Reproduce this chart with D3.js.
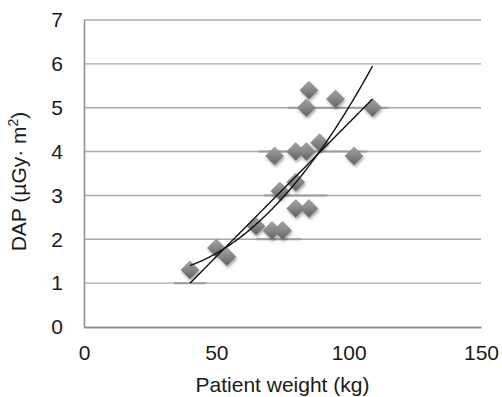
<!DOCTYPE html>
<html>
<head>
<meta charset="utf-8">
<script src="https://cdnjs.cloudflare.com/ajax/libs/d3/7.8.5/d3.min.js"></script>
<style>
  body { margin: 0; background: #fff; }
  .chart-box { width: 502px; height: 397px; }
  text { font-family: "Liberation Sans", Arial, sans-serif; fill: #1a1a1a; }
</style>
</head>
<body>
<div class="chart-box"></div>
<script>
// patient weight (kg) and DAP values
var weight = [40, 50, 54, 65, 71, 75, 80, 85, 74, 80, 72, 80, 84, 89, 102, 85, 95, 84, 109];
var dap    = [1.3, 1.8, 1.6, 2.3, 2.2, 2.2, 2.7, 2.7, 3.1, 3.3, 3.9, 4.0, 4.0, 4.2, 3.9, 5.4, 5.2, 5.0, 5.0];

// darker pieces of the gridlines: [dap level, from kg, to kg]
var darkGrid = [[1, 34, 46], [2, 65, 82], [3, 68, 92], [4, 66, 107], [5, 77, 115]];

// trend lines
var linearFit = [-1.44, 0.0609];            // a + b*x
var polyFit   = [1.568, -0.0299, 0.000643];  // a + b*x + c*x^2

var xTicks = [0, 50, 100, 150];
var yTicks = [0, 1, 2, 3, 4, 5, 6, 7];

var width = 502, height = 397;
var margin = {left: 84, right: 21, top: 20, bottom: 70};

var svg = d3.select(".chart-box").append("svg")
    .attr("width", width)
    .attr("height", height);

var x = d3.scaleLinear().domain([0, 150]).range([margin.left, width - margin.right]);
var y = d3.scaleLinear().domain([0, 7]).range([height - margin.bottom, margin.top]);

var defs = svg.append("defs");
var grad = defs.append("linearGradient")
    .attr("id", "diamondFill")
    .attr("x1", 0).attr("y1", 0).attr("x2", 0).attr("y2", 1);
grad.append("stop").attr("offset", "0%").attr("stop-color", "#a3a3a3");
grad.append("stop").attr("offset", "50%").attr("stop-color", "#868686");
grad.append("stop").attr("offset", "100%").attr("stop-color", "#5e5e5e");

var shadow = defs.append("filter")
    .attr("id", "shadow")
    .attr("x", "-50%").attr("y", "-50%").attr("width", "200%").attr("height", "200%");
shadow.append("feDropShadow")
    .attr("dx", 1).attr("dy", 2)
    .attr("stdDeviation", 1.6)
    .attr("flood-color", "#000")
    .attr("flood-opacity", 0.35);

// gridlines
svg.append("g")
    .attr("class", "grid")
  .selectAll("line")
  .data(yTicks.filter(function(d) { return d > 0; }))
  .enter().append("line")
    .attr("x1", x(0))
    .attr("x2", x(150))
    .attr("y1", function(d) { return y(d); })
    .attr("y2", function(d) { return y(d); })
    .attr("stroke", "#a8a8a8")
    .attr("stroke-width", 1.4);

svg.append("g")
  .selectAll("line")
  .data(darkGrid)
  .enter().append("line")
    .attr("x1", function(d) { return x(d[1]); })
    .attr("x2", function(d) { return x(d[2]); })
    .attr("y1", function(d) { return y(d[0]); })
    .attr("y2", function(d) { return y(d[0]); })
    .attr("stroke", "#9c9c9c")
    .attr("stroke-width", 2);

// axes
var xAxis = svg.append("g")
    .attr("transform", "translate(0," + y(0) + ")")
    .call(d3.axisBottom(x).tickValues(xTicks).tickSize(0).tickPadding(18));
xAxis.select(".domain").attr("stroke", "#8e8e8e").attr("stroke-width", 2.2);
xAxis.selectAll("text").style("font-size", "21px");

var yAxis = svg.append("g")
    .attr("transform", "translate(" + x(0) + ",0)")
    .call(d3.axisLeft(y).tickValues(yTicks).tickFormat(d3.format("d")).tickSize(0).tickPadding(21));
yAxis.select(".domain").attr("stroke", "#8e8e8e").attr("stroke-width", 1.6);
yAxis.selectAll("text").style("font-size", "21px");

svg.append("text")
    .attr("x", (x(0) + x(150)) / 2)
    .attr("y", 392)
    .attr("text-anchor", "middle")
    .style("font-size", "21px")
    .text("Patient weight (kg)");

var yTitle = svg.append("text")
    .attr("transform", "translate(26," + ((y(0) + y(7)) / 2 + 8) + ") rotate(-90)")
    .attr("text-anchor", "middle")
    .style("font-size", "21px");
yTitle.append("tspan").text("DAP (µGy· m");
yTitle.append("tspan").attr("dy", -8).style("font-size", "14px").text("2");
yTitle.append("tspan").attr("dy", 8).text(")");

// points
var points = weight.map(function(w, i) { return {w: w, d: dap[i]}; });

svg.append("g")
    .attr("filter", "url(#shadow)")
  .selectAll("path")
  .data(points)
  .enter().append("path")
    .attr("transform", function(p) { return "translate(" + x(p.w) + "," + y(p.d) + ")"; })
    .attr("d", "M0,-9L9,0L0,9L-9,0Z")
    .attr("fill", "url(#diamondFill)")
    .attr("stroke", "#7a7a7a")
    .attr("stroke-width", 0.5);

// trend lines
var ext = d3.extent(weight);
var xs = d3.range(ext[0], ext[1] + 0.01, 0.5);
var line = d3.line()
    .x(function(d) { return x(d[0]); })
    .y(function(d) { return y(d[1]); });

svg.append("path")
    .datum(xs.map(function(v) { return [v, linearFit[0] + linearFit[1] * v]; }))
    .attr("d", line)
    .attr("fill", "none")
    .attr("stroke", "#111")
    .attr("stroke-width", 1.4);

svg.append("path")
    .datum(xs.map(function(v) { return [v, polyFit[0] + polyFit[1] * v + polyFit[2] * v * v]; }))
    .attr("d", line)
    .attr("fill", "none")
    .attr("stroke", "#111")
    .attr("stroke-width", 1.4);
</script>
</body>
</html>
